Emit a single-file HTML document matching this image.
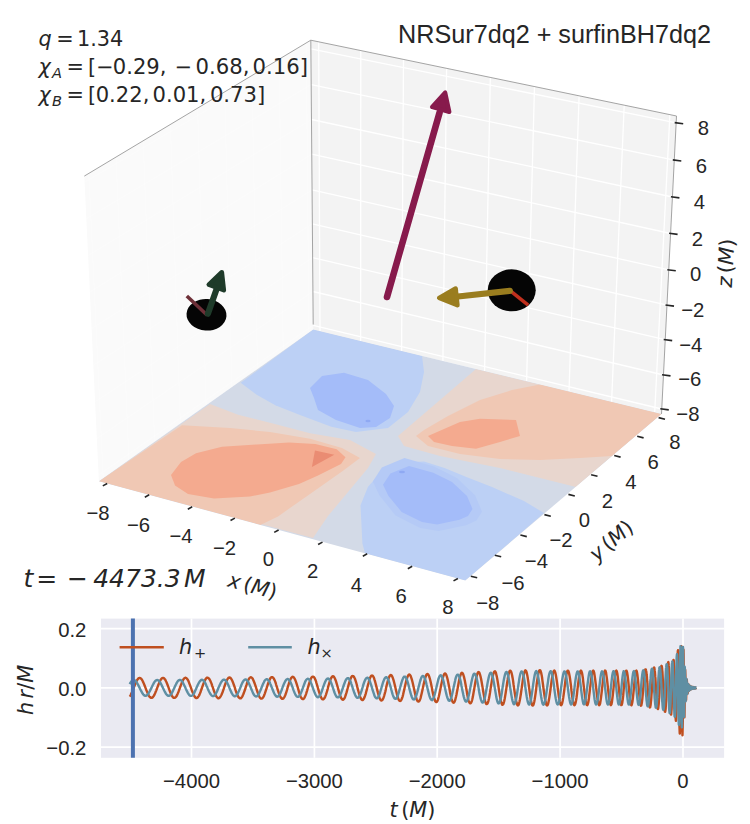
<!DOCTYPE html>
<html lang="en"><head><meta charset="utf-8"><title>NRSur7dq2 + surfinBH7dq2</title>
<style>html,body{margin:0;padding:0;background:#fff;}svg{display:block;}text{fill:#262626;}</style></head><body>
<svg width="750" height="824" viewBox="0 0 750 824">
<rect x="0" y="0" width="750" height="824" fill="#ffffff"/>
<g id="panes">
<polygon points="84.3,176.1 310.8,40.2 313.2,329.5 98.9,481.2" fill="#fafafa"/>
<polygon points="310.8,40.2 676.5,116.0 661.5,414.0 313.2,329.5" fill="#f3f3f3"/>
<g stroke="#ffffff" stroke-width="1.2" stroke-opacity="0.3" fill="none">
<line x1="84.6" y1="182.2" x2="310.9" y2="48.8"/>
<line x1="86.3" y1="218.8" x2="311.2" y2="84.6"/>
<line x1="88.1" y1="255.4" x2="311.5" y2="119.5"/>
<line x1="89.8" y1="292.0" x2="311.7" y2="154.2"/>
<line x1="91.6" y1="328.6" x2="312.0" y2="189.9"/>
<line x1="93.3" y1="365.2" x2="312.3" y2="223.8"/>
<line x1="95.1" y1="401.8" x2="312.6" y2="257.6"/>
<line x1="96.9" y1="438.4" x2="312.9" y2="291.5"/>
<line x1="98.6" y1="475.0" x2="313.2" y2="325.3"/>
<line x1="88.8" y1="173.4" x2="103.2" y2="478.2"/>
<line x1="116.0" y1="157.1" x2="128.9" y2="460.0"/>
<line x1="143.2" y1="140.8" x2="154.6" y2="441.8"/>
<line x1="170.4" y1="124.5" x2="180.3" y2="423.6"/>
<line x1="197.6" y1="108.2" x2="206.1" y2="405.4"/>
<line x1="224.7" y1="91.8" x2="231.8" y2="387.1"/>
<line x1="251.9" y1="75.5" x2="257.5" y2="368.9"/>
<line x1="279.1" y1="59.2" x2="283.2" y2="350.7"/>
<line x1="306.3" y1="42.9" x2="308.9" y2="332.5"/>
</g>
<g stroke="#ffffff" stroke-width="1.3" fill="none">
<line x1="310.9" y1="48.8" x2="676.2" y2="122.8"/>
<line x1="311.2" y1="84.6" x2="674.3" y2="160.1"/>
<line x1="311.5" y1="119.5" x2="672.4" y2="197.0"/>
<line x1="311.7" y1="154.2" x2="670.6" y2="233.5"/>
<line x1="312.0" y1="189.9" x2="668.8" y2="269.9"/>
<line x1="312.3" y1="223.8" x2="667.0" y2="305.2"/>
<line x1="312.6" y1="257.6" x2="665.2" y2="339.7"/>
<line x1="312.9" y1="291.5" x2="663.5" y2="375.0"/>
<line x1="313.2" y1="325.3" x2="661.8" y2="409.0"/>
<line x1="318.7" y1="41.8" x2="320.0" y2="331.1"/>
<line x1="360.8" y1="50.6" x2="360.6" y2="341.0"/>
<line x1="403.5" y1="59.4" x2="401.6" y2="350.9"/>
<line x1="446.6" y1="68.4" x2="442.9" y2="361.0"/>
<line x1="490.3" y1="77.4" x2="484.6" y2="371.1"/>
<line x1="534.5" y1="86.6" x2="526.6" y2="381.3"/>
<line x1="579.1" y1="95.8" x2="569.0" y2="391.5"/>
<line x1="624.2" y1="105.2" x2="611.6" y2="401.9"/>
<line x1="669.9" y1="114.6" x2="654.7" y2="412.3"/>
</g>
<g stroke="#9a9a9a" stroke-width="0.9" fill="none">
<polyline points="84.3,176.1 310.8,40.2 676.5,116.0"/>
<line x1="310.8" y1="40.2" x2="313.2" y2="324.5"/>
<line x1="676.5" y1="116.0" x2="661.5" y2="414.0"/>
</g>
</g>
<g id="floor">
<polygon points="313.2,329.5 661.5,414.0 465.3,580.6 98.9,481.2" fill="#d3dae7"/>
<clipPath id="fc"><polygon points="313.2,329.5 661.5,414.0 465.3,580.6 98.9,481.2"/></clipPath>
<g clip-path="url(#fc)">
<polygon points="313.2,329.5 240.7,382.7 256.7,394.7 275.3,405.3 299.3,414.7 331.3,426.7 356.0,432.0 388.0,428.0 408.0,412.0 420.0,392.0 424.0,372.0 422.0,356.0" fill="#bcd0f5"/>
<polygon points="310.0,388.0 322.0,376.0 344.0,372.8 368.0,380.0 386.0,394.0 394.0,406.0 390.0,418.0 376.0,427.0 360.0,428.0 336.0,420.0 318.0,410.0 314.0,398.0" fill="#a4bcf9"/>
<ellipse cx="368" cy="421" rx="2.6" ry="1.2" fill="#8fa9f3"/>
<polygon points="365.0,553.3 362.4,543.6 360.5,505.3 368.0,486.7 383.0,470.0 401.6,462.4 424.0,461.5 444.5,468.0 467.0,477.3 492.0,487.0 524.0,501.0 544.0,513.0 465.3,580.6" fill="#bcd0f5"/>
<polygon points="372.8,481.5 381.8,467.5 404.5,458.0 434.1,466.4 456.9,478.0 475.2,495.5 482.0,511.7 476.5,520.5 466.1,525.2 438.6,531.1 420.3,528.0 395.5,515.4 379.5,495.5" fill="#b5caf6"/>
<polygon points="383.0,484.8 390.4,473.6 409.0,466.0 433.3,472.7 452.0,482.0 467.0,496.0 472.5,509.0 468.0,516.0 459.5,519.8 437.0,524.5 422.0,522.0 401.6,511.9 388.5,496.0" fill="#a4bcf9"/>
<ellipse cx="402" cy="472" rx="3" ry="1.2" fill="#8fa9f3"/>
<polygon points="210.0,404.0 238.0,414.7 270.0,422.7 310.0,433.3 350.0,440.0 376.0,454.0 368.0,468.0 348.0,492.0 328.0,516.0 313.0,538.0 98.9,481.2" fill="#e8d6ce"/>
<polygon points="182.0,425.3 230.0,428.0 270.0,432.0 310.0,438.7 342.0,448.0 360.0,458.0 342.0,471.6 310.0,494.0 278.0,516.4 260.4,524.9 98.9,481.2" fill="#f0c8b4"/>
<polygon points="171.0,475.0 181.0,462.0 196.0,453.3 222.0,446.7 257.0,444.4 289.0,442.5 315.3,444.0 336.7,449.3 345.5,457.3 341.0,464.0 318.0,475.5 299.0,484.0 270.0,492.5 250.0,496.5 214.0,498.6 188.0,494.0 175.0,485.5" fill="#f4aa8f"/>
<polygon points="315.0,450.4 334.3,454.7 311.9,466.9" fill="#ea8c73"/>
<polygon points="476.0,369.0 440.0,400.0 412.0,424.0 398.0,436.0 404.0,446.0 440.0,456.0 500.0,468.0 540.0,478.0 576.0,487.0 661.5,414.0" fill="#e8d6ce"/>
<polygon points="540.0,384.5 512.0,390.0 480.0,400.0 448.0,416.0 424.0,430.0 416.0,436.0 428.0,446.0 460.0,454.0 500.0,459.0 540.0,460.0 580.0,458.0 612.0,456.0 661.5,414.0" fill="#f0c8b4"/>
<polygon points="428.0,436.0 460.0,422.0 480.0,418.8 516.0,420.0 520.0,436.0 500.0,442.0 476.0,448.8 452.0,446.0 434.0,442.0" fill="#f4aa8f"/>
</g></g>
<g id="ticks3d" stroke="#262626" stroke-width="1.6" stroke-linecap="butt">
<line x1="107.2" y1="483.5" x2="102.8" y2="485.9"/>
<line x1="149.2" y1="494.8" x2="144.8" y2="497.2"/>
<line x1="192.2" y1="506.8" x2="187.8" y2="509.2"/>
<line x1="234.9" y1="518.1" x2="230.5" y2="520.5"/>
<line x1="278.6" y1="530.0" x2="274.2" y2="532.4"/>
<line x1="322.5" y1="542.1" x2="318.1" y2="544.5"/>
<line x1="367.2" y1="553.8" x2="362.8" y2="556.2"/>
<line x1="412.2" y1="566.3" x2="407.8" y2="568.7"/>
<line x1="457.9" y1="578.5" x2="453.5" y2="580.9"/>
<line x1="470.8" y1="576.2" x2="477.2" y2="577.8"/>
<line x1="494.8" y1="555.2" x2="501.2" y2="556.8"/>
<line x1="520.4" y1="535.0" x2="526.8" y2="536.6"/>
<line x1="544.4" y1="514.6" x2="550.8" y2="516.2"/>
<line x1="568.4" y1="494.4" x2="574.8" y2="496.0"/>
<line x1="591.1" y1="474.7" x2="597.5" y2="476.3"/>
<line x1="614.2" y1="455.5" x2="620.6" y2="457.1"/>
<line x1="637.2" y1="436.3" x2="643.6" y2="437.9"/>
<line x1="658.6" y1="417.6" x2="665.0" y2="419.2"/>
<line x1="674.7" y1="122.6" x2="683.2" y2="123.7"/>
<line x1="672.8" y1="159.9" x2="681.3" y2="161.0"/>
<line x1="670.9" y1="196.8" x2="679.4" y2="197.9"/>
<line x1="669.1" y1="233.3" x2="677.6" y2="234.4"/>
<line x1="667.3" y1="269.7" x2="675.8" y2="270.8"/>
<line x1="665.5" y1="305.0" x2="674.0" y2="306.1"/>
<line x1="663.7" y1="339.5" x2="672.2" y2="340.6"/>
<line x1="662.0" y1="374.8" x2="670.5" y2="375.9"/>
<line x1="660.3" y1="408.8" x2="668.8" y2="409.9"/>
</g>
<g id="ticklabels3d" font-family='"Liberation Sans", Arial, sans-serif' font-size="20.3" text-anchor="middle">
<text x="98.0" y="520.2">−8</text>
<text x="138.5" y="531.9">−6</text>
<text x="181.0" y="543.2">−4</text>
<text x="224.5" y="555.2">−2</text>
<text x="268.5" y="566.2">0</text>
<text x="312.6" y="578.2">2</text>
<text x="356.5" y="591.7">4</text>
<text x="401.2" y="603.4">6</text>
<text x="447.8" y="613.9">8</text>
<text x="487.8" y="609.8">−8</text>
<text x="513.0" y="589.6">−6</text>
<text x="536.4" y="567.9">−4</text>
<text x="561.0" y="547.4">−2</text>
<text x="584.4" y="527.2">0</text>
<text x="607.4" y="508.0">2</text>
<text x="630.8" y="488.8">4</text>
<text x="653.2" y="468.6">6</text>
<text x="675.0" y="449.4">8</text>
<text x="703.3" y="134.7">8</text>
<text x="701.4" y="172.7">6</text>
<text x="699.4" y="209.3">4</text>
<text x="697.5" y="246.0">2</text>
<text x="695.6" y="280.8">0</text>
<text x="692.7" y="316.9">−2</text>
<text x="690.8" y="351.9">−4</text>
<text x="689.8" y="385.9">−6</text>
<text x="687.9" y="420.8">−8</text>
</g>
<text transform="translate(250.8,592.8) rotate(15.2)" font-family='"DejaVu Sans", "Liberation Sans", sans-serif' font-size="20.8" text-anchor="middle"><tspan font-style="italic">x</tspan><tspan dx="3.5">(</tspan><tspan font-style="italic">M</tspan><tspan>)</tspan></text>
<text transform="translate(615.9,546.0) rotate(-40.3)" font-family='"DejaVu Sans", "Liberation Sans", sans-serif' font-size="20.8" text-anchor="middle"><tspan font-style="italic">y</tspan><tspan dx="3.5">(</tspan><tspan font-style="italic">M</tspan><tspan>)</tspan></text>
<text transform="translate(733.1,263.5) rotate(-87.1)" font-family='"DejaVu Sans", "Liberation Sans", sans-serif' font-size="20.8" text-anchor="middle"><tspan font-style="italic">z</tspan><tspan dx="3.5">(</tspan><tspan font-style="italic">M</tspan><tspan>)</tspan></text>
<g id="objects">
<line x1="387" y1="297" x2="439.6" y2="112.5" stroke="#871a4c" stroke-width="6.6" stroke-linecap="round"/>
<polygon points="445.1,92.6 432.2,107.0 449.2,111.8" fill="#871a4c" stroke="#871a4c" stroke-width="4.4" stroke-linejoin="round"/>
<ellipse cx="206.5" cy="314.8" rx="20" ry="15.8" fill="#050505" transform="rotate(4 206.5 314.8)"/>
<line x1="186.8" y1="296" x2="207.3" y2="315.3" stroke="#6e3038" stroke-width="3.6" stroke-linecap="butt"/>
<line x1="207.9" y1="313.7" x2="216.8" y2="288.5" stroke="#1f3b2a" stroke-width="6.2" stroke-linecap="round"/>
<polygon points="221.8,272.2 208.8,284.6 223.8,290.2" fill="#1f3b2a" stroke="#1f3b2a" stroke-width="4.6" stroke-linejoin="round"/>
<ellipse cx="511.7" cy="290.3" rx="24" ry="21" fill="#050505"/>
<line x1="509.8" y1="290.3" x2="528.2" y2="305.2" stroke="#c0301e" stroke-width="3.6" stroke-linecap="butt"/>
<line x1="509.8" y1="290.8" x2="458" y2="296.5" stroke="#9a7d1f" stroke-width="6.2" stroke-linecap="round"/>
<polygon points="439.2,297.9 455.6,288.6 457.4,305.2" fill="#9a7d1f" stroke="#9a7d1f" stroke-width="4.6" stroke-linejoin="round"/>
</g>
<text x="711.0" y="42.6" font-family='"Liberation Sans", Arial, sans-serif' font-size="25.2" text-anchor="end">NRSur7dq2 + surfinBH7dq2</text>
<g id="params" font-family='"DejaVu Sans", "Liberation Sans", sans-serif' font-size="20.8">
<text y="46"><tspan x="38.6" font-style="italic">q</tspan><tspan x="56.3">=</tspan><tspan x="77">1.34</tspan></text>
<text y="73.6"><tspan x="38.6" font-style="italic">χ</tspan><tspan x="52.0" dy="3.9" font-size="14.6" font-style="italic">A</tspan><tspan x="66.5" dy="-3.9">=</tspan><tspan x="88.1">[</tspan><tspan x="96.2">−</tspan><tspan x="112.8" font-size="21.1">0.29,</tspan><tspan x="174.8">−</tspan><tspan x="195.5" font-size="21.2">0.68,</tspan><tspan x="252.5" font-size="21.2">0.16]</tspan></text>
<text y="101.6"><tspan x="38.6" font-style="italic">χ</tspan><tspan x="52.0" dy="3.9" font-size="14.6" font-style="italic">B</tspan><tspan x="66.5" dy="-3.9">=</tspan><tspan x="88.1">[</tspan><tspan x="95.7" font-size="21.1">0.22,</tspan><tspan x="152.5" font-size="21.1">0.01,</tspan><tspan x="209.9" font-size="21.2">0.73]</tspan></text>
</g>
<text y="586.6" font-family='"DejaVu Sans", "Liberation Sans", sans-serif' font-size="25" font-style="italic"><tspan x="23.6">t</tspan><tspan x="36.2">=</tspan><tspan x="67">−</tspan><tspan x="93.2">4473.3</tspan><tspan x="184">M</tspan></text>
<g id="wave">
<rect x="101.0" y="618.6" width="623.1" height="139.2" fill="#eaeaf2"/>
<g stroke="#ffffff" stroke-width="1.7">
<line x1="191.5" y1="618.6" x2="191.5" y2="757.8"/>
<line x1="314.4" y1="618.6" x2="314.4" y2="757.8"/>
<line x1="437.2" y1="618.6" x2="437.2" y2="757.8"/>
<line x1="560.1" y1="618.6" x2="560.1" y2="757.8"/>
<line x1="683.0" y1="618.6" x2="683.0" y2="757.8"/>
<line x1="101.0" y1="628.6" x2="724.1" y2="628.6"/>
<line x1="101.0" y1="687.9" x2="724.1" y2="687.9"/>
<line x1="101.0" y1="747.1" x2="724.1" y2="747.1"/>
</g>
<polyline points="129.7,696.6 130.2,695.9 130.7,695.0 131.1,694.1 131.6,693.0 132.1,691.9 132.6,690.7 133.1,689.4 133.6,688.1 134.1,686.8 134.6,685.6 135.1,684.3 135.6,683.2 136.1,682.1 136.6,681.1 137.0,680.2 137.5,679.5 138.0,678.9 138.5,678.4 139.0,678.1 139.5,678.0 140.0,678.0 140.5,678.2 141.0,678.6 141.5,679.1 142.0,679.8 142.5,680.6 142.9,681.6 143.4,682.6 143.9,683.8 144.4,685.0 144.9,686.3 145.4,687.6 145.9,688.9 146.4,690.2 146.9,691.4 147.4,692.6 147.9,693.7 148.3,694.7 148.8,695.6 149.3,696.4 149.8,697.0 150.3,697.4 150.8,697.7 151.3,697.8 151.8,697.8 152.3,697.6 152.8,697.2 153.3,696.6 153.8,695.9 154.2,695.1 154.7,694.1 155.2,693.0 155.7,691.8 156.2,690.6 156.7,689.3 157.2,687.9 157.7,686.6 158.2,685.3 158.7,684.0 159.2,682.9 159.7,681.8 160.1,680.8 160.6,679.9 161.1,679.2 161.6,678.6 162.1,678.2 162.6,678.0 163.1,677.9 163.6,678.1 164.1,678.4 164.6,678.9 165.1,679.5 165.6,680.3 166.0,681.3 166.5,682.3 167.0,683.5 167.5,684.8 168.0,686.1 168.5,687.4 169.0,688.8 169.5,690.2 170.0,691.5 170.5,692.7 171.0,693.9 171.5,694.9 171.9,695.8 172.4,696.6 172.9,697.2 173.4,697.6 173.9,697.9 174.4,697.9 174.9,697.8 175.4,697.5 175.9,697.0 176.4,696.3 176.9,695.5 177.3,694.5 177.8,693.4 178.3,692.2 178.8,690.9 179.3,689.5 179.8,688.1 180.3,686.8 180.8,685.4 181.3,684.1 181.8,682.8 182.3,681.7 182.8,680.6 183.2,679.7 183.7,679.0 184.2,678.4 184.7,678.0 185.2,677.8 185.7,677.8 186.2,678.0 186.7,678.4 187.2,679.0 187.7,679.7 188.2,680.6 188.7,681.7 189.1,682.8 189.6,684.1 190.1,685.4 190.6,686.8 191.1,688.2 191.6,689.7 192.1,691.0 192.6,692.4 193.1,693.6 193.6,694.7 194.1,695.7 194.6,696.5 195.0,697.2 195.5,697.7 196.0,698.0 196.5,698.1 197.0,697.9 197.5,697.6 198.0,697.1 198.5,696.4 199.0,695.6 199.5,694.6 200.0,693.4 200.5,692.2 200.9,690.9 201.4,689.5 201.9,688.0 202.4,686.6 202.9,685.2 203.4,683.8 203.9,682.6 204.4,681.4 204.9,680.3 205.4,679.5 205.9,678.7 206.3,678.2 206.8,677.8 207.3,677.7 207.8,677.7 208.3,678.0 208.8,678.4 209.3,679.0 209.8,679.8 210.3,680.8 210.8,681.9 211.3,683.1 211.8,684.4 212.2,685.8 212.7,687.2 213.2,688.7 213.7,690.1 214.2,691.5 214.7,692.8 215.2,694.0 215.7,695.1 216.2,696.1 216.7,696.9 217.2,697.5 217.7,697.9 218.1,698.2 218.6,698.2 219.1,698.1 219.6,697.7 220.1,697.2 220.6,696.4 221.1,695.5 221.6,694.5 222.1,693.3 222.6,692.0 223.1,690.6 223.6,689.2 224.0,687.8 224.5,686.3 225.0,684.9 225.5,683.5 226.0,682.2 226.5,681.1 227.0,680.0 227.5,679.1 228.0,678.4 228.5,677.9 229.0,677.6 229.4,677.5 229.9,677.6 230.4,677.9 230.9,678.4 231.4,679.1 231.9,680.0 232.4,681.1 232.9,682.3 233.4,683.6 233.9,685.0 234.4,686.4 234.9,687.9 235.3,689.4 235.8,690.9 236.3,692.3 236.8,693.6 237.3,694.8 237.8,695.9 238.3,696.8 238.8,697.5 239.3,698.0 239.8,698.3 240.3,698.4 240.8,698.3 241.2,697.9 241.7,697.4 242.2,696.6 242.7,695.6 243.2,694.5 243.7,693.3 244.2,691.9 244.7,690.5 245.2,689.0 245.7,687.4 246.2,685.9 246.7,684.4 247.1,683.0 247.6,681.7 248.1,680.5 248.6,679.5 249.1,678.6 249.6,678.0 250.1,677.5 250.6,677.3 251.1,677.3 251.6,677.5 252.1,678.0 252.6,678.6 253.0,679.4 253.5,680.5 254.0,681.7 254.5,683.0 255.0,684.4 255.5,685.9 256.0,687.4 256.5,689.0 257.0,690.5 257.5,692.0 258.0,693.4 258.4,694.7 258.9,695.8 259.4,696.8 259.9,697.6 260.4,698.1 260.9,698.5 261.4,698.6 261.9,698.5 262.4,698.2 262.9,697.7 263.4,696.9 263.9,696.0 264.3,694.9 264.8,693.6 265.3,692.2 265.8,690.7 266.3,689.2 266.8,687.6 267.3,686.0 267.8,684.5 268.3,683.0 268.8,681.7 269.3,680.4 269.8,679.4 270.2,678.5 270.7,677.8 271.2,677.3 271.7,677.1 272.2,677.1 272.7,677.3 273.2,677.8 273.7,678.4 274.2,679.3 274.7,680.4 275.2,681.6 275.7,683.0 276.1,684.5 276.6,686.1 277.1,687.7 277.6,689.3 278.1,690.9 278.6,692.4 279.1,693.8 279.6,695.1 280.1,696.2 280.6,697.2 281.1,698.0 281.6,698.5 282.0,698.8 282.5,698.9 283.0,698.7 283.5,698.3 284.0,697.6 284.5,696.8 285.0,695.7 285.5,694.5 286.0,693.1 286.5,691.6 287.0,690.0 287.4,688.4 287.9,686.7 288.4,685.1 288.9,683.5 289.4,682.1 289.9,680.7 290.4,679.5 290.9,678.5 291.4,677.8 291.9,677.2 292.4,676.9 292.9,676.8 293.3,677.0 293.8,677.4 294.3,678.1 294.8,679.0 295.3,680.1 295.8,681.4 296.3,682.8 296.8,684.4 297.3,686.0 297.8,687.7 298.3,689.4 298.8,691.1 299.2,692.7 299.7,694.2 300.2,695.5 300.7,696.7 301.2,697.7 301.7,698.4 302.2,698.9 302.7,699.1 303.2,699.1 303.7,698.8 304.2,698.2 304.7,697.4 305.1,696.4 305.6,695.2 306.1,693.8 306.6,692.2 307.1,690.6 307.6,688.8 308.1,687.1 308.6,685.4 309.1,683.7 309.6,682.2 310.1,680.7 310.6,679.5 311.0,678.4 311.5,677.6 312.0,677.0 312.5,676.6 313.0,676.6 313.5,676.8 314.0,677.2 314.5,677.9 315.0,678.9 315.5,680.0 316.0,681.4 316.4,682.9 316.9,684.5 317.4,686.2 317.9,688.0 318.4,689.7 318.9,691.4 319.4,693.0 319.9,694.6 320.4,695.9 320.9,697.1 321.4,698.0 321.9,698.7 322.3,699.2 322.8,699.4 323.3,699.3 323.8,698.9 324.3,698.3 324.8,697.5 325.3,696.4 325.8,695.1 326.3,693.6 326.8,692.0 327.3,690.3 327.8,688.5 328.2,686.7 328.7,685.0 329.2,683.3 329.7,681.7 330.2,680.3 330.7,679.0 331.2,678.0 331.7,677.2 332.2,676.6 332.7,676.3 333.2,676.3 333.7,676.6 334.1,677.1 334.6,677.9 335.1,679.0 335.6,680.2 336.1,681.7 336.6,683.3 337.1,685.0 337.6,686.8 338.1,688.6 338.6,690.4 339.1,692.1 339.6,693.8 340.0,695.3 340.5,696.6 341.0,697.7 341.5,698.6 342.0,699.2 342.5,699.6 343.0,699.7 343.5,699.4 344.0,698.9 344.5,698.2 345.0,697.2 345.4,695.9 345.9,694.5 346.4,692.9 346.9,691.1 347.4,689.3 347.9,687.5 348.4,685.6 348.9,683.8 349.4,682.1 349.9,680.6 350.4,679.2 350.9,678.0 351.3,677.1 351.8,676.4 352.3,676.1 352.8,676.0 353.3,676.2 353.8,676.7 354.3,677.5 354.8,678.5 355.3,679.8 355.8,681.3 356.3,683.0 356.8,684.8 357.2,686.6 357.7,688.6 358.2,690.5 358.7,692.3 359.2,694.0 359.7,695.6 360.2,697.0 360.7,698.2 361.2,699.1 361.7,699.7 362.2,700.0 362.7,700.0 363.1,699.7 363.6,699.1 364.1,698.2 364.6,697.1 365.1,695.7 365.6,694.1 366.1,692.3 366.6,690.4 367.1,688.5 367.6,686.5 368.1,684.5 368.6,682.7 369.0,681.0 369.5,679.4 370.0,678.1 370.5,677.0 371.0,676.2 371.5,675.7 372.0,675.5 372.5,675.7 373.0,676.2 373.5,676.9 374.0,678.0 374.4,679.4 374.9,680.9 375.4,682.7 375.9,684.6 376.4,686.6 376.9,688.6 377.4,690.6 377.9,692.6 378.4,694.4 378.9,696.1 379.4,697.5 379.9,698.7 380.3,699.6 380.8,700.2 381.3,700.5 381.8,700.4 382.3,700.0 382.8,699.3 383.3,698.2 383.8,696.9 384.3,695.3 384.8,693.5 385.3,691.6 385.8,689.5 386.2,687.4 386.7,685.3 387.2,683.3 387.7,681.4 388.2,679.7 388.7,678.1 389.2,676.9 389.7,675.9 390.2,675.3 390.7,675.0 391.2,675.1 391.7,675.6 392.1,676.3 392.6,677.4 393.1,678.8 393.6,680.4 394.1,682.3 394.6,684.3 395.1,686.4 395.6,688.6 396.1,690.7 396.6,692.8 397.1,694.8 397.5,696.5 398.0,698.0 398.5,699.3 399.0,700.2 399.5,700.8 400.0,701.0 400.5,700.9 401.0,700.4 401.5,699.5 402.0,698.3 402.5,696.8 403.0,695.1 403.4,693.2 403.9,691.0 404.4,688.9 404.9,686.6 405.4,684.4 405.9,682.3 406.4,680.4 406.9,678.6 407.4,677.1 407.9,676.0 408.4,675.1 408.9,674.6 409.3,674.5 409.8,674.8 410.3,675.4 410.8,676.4 411.3,677.8 411.8,679.4 412.3,681.2 412.8,683.3 413.3,685.5 413.8,687.8 414.3,690.0 414.8,692.2 415.2,694.3 415.7,696.3 416.2,698.0 416.7,699.4 417.2,700.5 417.7,701.2 418.2,701.5 418.7,701.5 419.2,701.1 419.7,700.3 420.2,699.1 420.7,697.6 421.1,695.8 421.6,693.8 422.1,691.6 422.6,689.3 423.1,687.0 423.6,684.6 424.1,682.4 424.6,680.3 425.1,678.4 425.6,676.8 426.1,675.5 426.5,674.6 427.0,674.1 427.5,674.0 428.0,674.3 428.5,675.0 429.0,676.1 429.5,677.5 430.0,679.3 430.5,681.3 431.0,683.6 431.5,685.9 432.0,688.4 432.4,690.8 432.9,693.2 433.4,695.4 433.9,697.3 434.4,699.0 434.9,700.4 435.4,701.4 435.9,701.9 436.4,702.1 436.9,701.8 437.4,701.1 437.9,699.9 438.3,698.4 438.8,696.5 439.3,694.4 439.8,692.1 440.3,689.6 440.8,687.1 441.3,684.6 441.8,682.2 442.3,679.9 442.8,677.9 443.3,676.2 443.8,674.9 444.2,674.0 444.7,673.5 445.2,673.5 445.7,673.9 446.2,674.8 446.7,676.1 447.2,677.8 447.7,679.9 448.2,682.2 448.7,684.7 449.2,687.3 449.7,689.9 450.1,692.5 450.6,695.0 451.1,697.2 451.6,699.1 452.1,700.7 452.6,701.8 453.1,702.5 453.6,702.7 454.1,702.4 454.6,701.6 455.1,700.4 455.5,698.7 456.0,696.7 456.5,694.4 457.0,691.8 457.5,689.2 458.0,686.4 458.5,683.7 459.0,681.1 459.5,678.8 460.0,676.7 460.5,675.1 461.0,673.8 461.4,673.0 461.9,672.7 462.4,673.0 462.9,673.7 463.4,675.0 463.9,676.6 464.4,678.7 464.9,681.1 465.4,683.7 465.9,686.5 466.4,689.3 466.9,692.1 467.3,694.8 467.8,697.2 468.3,699.3 468.8,701.1 469.3,702.4 469.8,703.2 470.3,703.4 470.8,703.2 471.3,702.4 471.8,701.1 472.3,699.3 472.8,697.1 473.2,694.7 473.7,691.9 474.2,689.0 474.7,686.1 475.2,683.2 475.7,680.5 476.2,678.0 476.7,675.9 477.2,674.1 477.7,672.9 478.2,672.2 478.7,672.0 479.1,672.4 479.6,673.4 480.1,674.8 480.6,676.8 481.1,679.1 481.6,681.7 482.1,684.6 482.6,687.6 483.1,690.7 483.6,693.6 484.1,696.3 484.5,698.8 485.0,700.9 485.5,702.5 486.0,703.6 486.5,704.1 487.0,704.1 487.5,703.5 488.0,702.3 488.5,700.6 489.0,698.4 489.5,695.8 490.0,692.9 490.4,689.9 490.9,686.7 491.4,683.6 491.9,680.6 492.4,677.9 492.9,675.5 493.4,673.6 493.9,672.3 494.4,671.5 494.9,671.3 495.4,671.7 495.9,672.8 496.3,674.5 496.8,676.6 497.3,679.3 497.8,682.2 498.3,685.4 498.8,688.8 499.3,692.1 499.8,695.2 500.3,698.1 500.8,700.5 501.3,702.5 501.8,703.9 502.2,704.7 502.7,704.8 503.2,704.2 503.7,703.0 504.2,701.2 504.7,698.8 505.2,695.9 505.7,692.8 506.2,689.4 506.7,686.0 507.2,682.6 507.7,679.5 508.1,676.6 508.6,674.3 509.1,672.4 509.6,671.2 510.1,670.7 510.6,670.9 511.1,671.7 511.6,673.2 512.1,675.3 512.6,677.9 513.1,680.9 513.5,684.2 514.0,687.6 514.5,691.1 515.0,694.4 515.5,697.5 516.0,700.2 516.5,702.4 517.0,704.1 517.5,705.1 518.0,705.4 518.5,704.9 519.0,703.8 519.4,702.1 519.9,699.7 520.4,696.9 520.9,693.7 521.4,690.2 521.9,686.6 522.4,683.1 522.9,679.7 523.4,676.7 523.9,674.2 524.4,672.2 524.9,670.9 525.3,670.3 525.8,670.5 526.3,671.4 526.8,673.1 527.3,675.4 527.8,678.3 528.3,681.7 528.8,685.3 529.3,689.1 529.8,692.8 530.3,696.3 530.8,699.5 531.2,702.1 531.7,704.0 532.2,705.2 532.7,705.6 533.2,705.2 533.7,704.0 534.2,702.0 534.7,699.3 535.2,696.1 535.7,692.6 536.2,688.8 536.6,684.9 537.1,681.2 537.6,677.9 538.1,674.9 538.6,672.6 539.1,671.0 539.6,670.2 540.1,670.2 540.6,671.0 541.1,672.6 541.6,674.9 542.1,677.8 542.5,681.1 543.0,684.7 543.5,688.5 544.0,692.2 544.5,695.7 545.0,698.9 545.5,701.6 546.0,703.6 546.5,705.0 547.0,705.5 547.5,705.3 548.0,704.3 548.4,702.5 548.9,700.1 549.4,697.1 549.9,693.6 550.4,690.0 550.9,686.2 551.4,682.5 551.9,679.0 552.4,676.0 552.9,673.5 553.4,671.7 553.9,670.7 554.3,670.5 554.8,671.2 555.3,672.6 555.8,674.8 556.3,677.7 556.8,681.0 557.3,684.7 557.8,688.6 558.3,692.4 558.8,696.0 559.3,699.2 559.8,701.9 560.2,703.8 560.7,704.9 561.2,705.2 561.7,704.6 562.2,703.1 562.7,700.8 563.2,697.9 563.7,694.4 564.2,690.6 564.7,686.7 565.2,682.7 565.6,679.1 566.1,675.9 566.6,673.4 567.1,671.6 567.6,670.7 568.1,670.7 568.6,671.6 569.1,673.4 569.6,676.0 570.1,679.2 570.6,682.9 571.1,686.9 571.5,690.9 572.0,694.8 572.5,698.3 573.0,701.3 573.5,703.5 574.0,704.8 574.5,705.2 575.0,704.7 575.5,703.2 576.0,700.8 576.5,697.7 577.0,694.0 577.4,690.0 577.9,685.9 578.4,681.8 578.9,678.1 579.4,675.0 579.9,672.6 580.4,671.1 580.9,670.6 581.4,671.1 581.9,672.6 582.4,675.1 582.9,678.3 583.3,682.1 583.8,686.3 584.3,690.6 584.8,694.7 585.3,698.5 585.8,701.6 586.3,703.8 586.8,705.0 587.3,705.2 587.8,704.2 588.3,702.2 588.8,699.3 589.2,695.7 589.7,691.6 590.2,687.2 590.7,682.8 591.2,678.8 591.7,675.4 592.2,672.8 592.7,671.1 593.2,670.6 593.7,671.1 594.2,672.8 594.6,675.4 595.1,678.8 595.6,682.9 596.1,687.2 596.6,691.6 597.1,695.8 597.6,699.5 598.1,702.4 598.6,704.3 599.1,705.2 599.6,704.9 600.1,703.5 600.5,701.1 601.0,697.7 601.5,693.7 602.0,689.3 602.5,684.8 603.0,680.5 603.5,676.6 604.0,673.6 604.5,671.5 605.0,670.6 605.5,670.9 606.0,672.4 606.4,675.1 606.9,678.6 607.4,682.8 607.9,687.4 608.4,692.1 608.9,696.4 609.4,700.2 609.9,703.0 610.4,704.7 610.9,705.2 611.4,704.4 611.9,702.3 612.3,699.1 612.8,695.0 613.3,690.4 613.8,685.5 614.3,680.8 614.8,676.7 615.3,673.4 615.8,671.3 616.3,670.6 616.8,671.3 617.3,673.5 617.8,676.9 618.2,681.4 618.7,686.4 619.2,691.7 619.7,696.6 620.2,700.7 620.7,703.6 621.2,705.1 621.7,704.9 622.2,703.1 622.7,699.9 623.2,695.4 623.6,690.3 624.1,684.9 624.6,679.8 625.1,675.5 625.6,672.4 626.1,670.8 626.6,670.8 627.1,672.4 627.6,675.4 628.1,679.7 628.6,684.6 629.1,689.9 629.5,695.0 630.0,699.5 630.5,702.8 631.0,704.8 631.5,705.2 632.0,703.9 632.5,701.2 633.0,697.1 633.5,692.2 634.0,686.8 634.5,681.5 635.0,676.8 635.4,673.2 635.9,671.0 636.4,670.5 636.9,671.9 637.4,674.8 637.9,679.2 638.4,684.6 638.9,690.3 639.4,695.9 639.9,700.6 640.4,704.0 640.9,705.7 641.3,705.4 641.8,703.1 642.3,699.1 642.8,693.7 643.3,687.6 643.8,681.5 644.3,676.0 644.8,671.8 645.3,669.5 645.8,669.4 646.1,670.8 646.3,671.6 646.4,672.4 646.5,673.4 646.6,674.5 646.8,675.8 646.9,677.1 647.0,678.5 647.1,680.0 647.2,681.5 647.4,683.1 647.5,684.8 647.6,686.4 647.7,688.1 647.9,689.8 648.0,691.5 648.1,693.2 648.2,694.8 648.3,696.4 648.5,697.9 648.6,699.4 648.7,700.7 648.8,702.0 649.0,703.2 649.1,704.2 649.2,705.1 649.3,705.9 649.5,706.5 649.6,707.0 649.7,707.3 649.8,707.5 649.9,707.5 650.1,707.3 650.2,707.0 650.3,706.6 650.4,705.9 650.6,705.1 650.7,704.2 650.8,703.1 650.9,701.9 651.1,700.6 651.2,699.1 651.3,697.6 651.4,696.0 651.5,694.2 651.7,692.5 651.8,690.6 651.9,688.8 652.0,686.9 652.2,685.0 652.3,683.2 652.4,681.4 652.5,679.6 652.6,677.9 652.8,676.3 652.9,674.7 653.0,673.3 653.1,672.0 653.3,670.9 653.4,669.9 653.5,669.0 653.6,668.4 653.8,667.9 653.9,667.6 654.0,667.5 654.1,667.5 654.2,667.8 654.4,668.3 654.5,668.9 654.6,669.7 654.7,670.7 654.9,671.9 655.0,673.3 655.1,674.7 655.2,676.4 655.4,678.1 655.5,680.0 655.6,681.9 655.7,683.9 655.8,686.0 656.0,688.0 656.1,690.1 656.2,692.2 656.3,694.2 656.5,696.2 656.6,698.1 656.7,699.9 656.8,701.6 656.9,703.2 657.1,704.6 657.2,705.8 657.3,706.9 657.4,707.7 657.6,708.4 657.7,708.8 657.8,709.1 657.9,709.1 658.1,708.8 658.2,708.4 658.3,707.7 658.4,706.8 658.5,705.7 658.7,704.4 658.8,702.9 658.9,701.2 659.0,699.4 659.2,697.4 659.3,695.4 659.4,693.2 659.5,691.0 659.7,688.7 659.8,686.4 659.9,684.1 660.0,681.9 660.1,679.7 660.3,677.6 660.4,675.6 660.5,673.7 660.6,672.0 660.8,670.4 660.9,669.1 661.0,667.9 661.1,667.0 661.3,666.4 661.4,665.9 661.5,665.8 661.6,665.9 661.7,666.2 661.9,666.8 662.0,667.7 662.1,668.7 662.2,670.1 662.4,671.6 662.5,673.3 662.6,675.2 662.7,677.3 662.8,679.5 663.0,681.8 663.1,684.2 663.2,686.6 663.3,689.1 663.5,691.6 663.6,694.1 663.7,696.5 663.8,698.8 664.0,701.0 664.1,703.1 664.2,705.0 664.3,706.7 664.4,708.2 664.6,709.5 664.7,710.5 664.8,711.2 664.9,711.7 665.1,711.8 665.2,711.7 665.3,711.2 665.4,710.5 665.6,709.4 665.7,708.0 665.8,706.4 665.9,704.5 666.0,702.3 666.2,699.9 666.3,697.4 666.4,694.7 666.5,691.8 666.7,688.9 666.8,685.9 666.9,682.9 667.0,680.0 667.1,677.1 667.3,674.4 667.4,671.8 667.5,669.5 667.6,667.4 667.8,665.6 667.9,664.2 668.0,663.1 668.1,662.4 668.3,662.1 668.4,662.3 668.5,662.9 668.6,663.9 668.7,665.4 668.9,667.3 669.0,669.6 669.1,672.2 669.2,675.1 669.4,678.4 669.5,681.8 669.6,685.4 669.7,689.0 669.9,692.7 670.0,696.3 670.1,699.8 670.2,703.0 670.3,706.0 670.5,708.6 670.6,710.9 670.7,712.6 670.8,713.8 671.0,714.5 671.1,714.6 671.2,714.2 671.3,713.1 671.4,711.5 671.6,709.3 671.7,706.6 671.8,703.5 671.9,699.9 672.1,696.1 672.2,692.1 672.3,687.9 672.4,683.7 672.6,679.5 672.7,675.6 672.8,671.9 672.9,668.5 673.0,665.6 673.2,663.2 673.3,661.5 673.4,660.3 673.5,659.9 673.7,660.2 673.8,661.1 673.9,662.7 674.0,665.0 674.2,667.9 674.3,671.4 674.4,675.3 674.5,679.7 674.6,684.4 674.8,689.2 674.9,694.2 675.0,699.0 675.1,703.7 675.3,708.1 675.4,712.1 675.5,715.4 675.6,718.0 675.8,719.9 675.9,720.8 676.0,720.7 676.1,719.7 676.2,717.6 676.4,714.5 676.5,710.5 676.6,705.6 676.7,700.0 676.9,693.8 677.0,687.3 677.1,680.6 677.2,674.0 677.3,667.8 677.5,662.1 677.6,657.3 677.7,653.6 677.8,651.2 678.0,650.2 678.1,650.8 678.2,653.0 678.3,656.7 678.5,661.8 678.6,668.2 678.7,675.7 678.8,684.0 678.9,692.8 679.1,701.7 679.2,710.2 679.3,718.0 679.4,724.6 679.6,729.6 679.7,732.7 679.8,733.6 679.9,732.1 680.1,728.2 680.2,721.9 680.3,713.6 680.4,703.7 680.5,692.7 680.7,681.3 680.8,670.3 680.9,660.6 681.0,652.8 681.2,647.8 681.3,646.1 681.4,648.0 681.5,653.6 681.6,662.9 681.8,675.1 681.9,689.2 682.0,703.8 682.1,717.2 682.3,727.9 682.4,734.3 682.5,735.3 682.6,730.6 682.8,720.5 682.9,706.3 683.0,689.7 683.1,673.2 683.2,659.7 683.4,651.4 683.5,649.7 683.6,654.4 683.7,664.7 683.9,678.4 684.0,692.9 684.1,705.6 684.2,714.2 684.4,717.4 684.5,714.6 684.6,706.9 684.7,696.2 684.8,685.2 685.0,676.1 685.1,670.8 685.2,669.9 685.3,672.9 685.5,678.9 685.6,686.2 685.7,693.0 685.8,698.1 685.9,700.4 686.1,699.8 686.2,696.8 686.3,692.1 686.4,687.0 686.6,682.8 686.7,680.2 686.8,679.7 686.9,681.0 687.1,683.8 687.2,687.2 687.3,690.3 687.4,692.6 687.5,693.5 687.7,693.2 687.8,691.7 687.9,689.6 688.0,687.4 688.2,685.6 688.3,684.4 688.4,684.2 688.5,684.8 688.7,686.0 688.8,687.5 688.9,689.0 689.0,690.1 689.1,690.7 689.3,690.5 689.4,689.8 689.5,688.8 689.6,687.6 689.8,686.6 689.9,686.0 690.0,685.9 690.1,686.2 690.2,686.9 690.4,687.7 690.5,688.5 690.6,689.1 690.7,689.4 690.9,689.3 691.0,689.0 691.1,688.4 691.2,687.7 691.4,687.2 691.5,686.8 691.6,686.7 691.7,686.9 691.8,687.3 692.0,687.8 692.1,688.3 692.2,688.7 692.3,688.9 692.5,688.9 692.6,688.6 692.7,688.2 692.8,687.8 693.0,687.4 693.1,687.1 693.2,687.0 693.3,687.2 693.4,687.4 693.6,687.8 693.7,688.2 693.8,688.5 693.9,688.6 694.1,688.6 694.2,688.4 694.3,688.1 694.4,687.8 694.6,687.5 694.7,687.3 694.8,687.3 694.9,687.3 695.0,687.5 695.2,687.8 695.3,688.1 695.4,688.3 695.5,688.4 695.7,688.4 695.8,688.3 695.9,688.1 696.0,687.8 696.1,687.6" fill="none" stroke="#bf4f20" stroke-width="2.4" stroke-linejoin="round" stroke-linecap="butt"/>
<polyline points="129.7,684.1 130.2,683.2 130.7,682.4 131.1,681.8 131.6,681.2 132.1,680.7 132.6,680.4 133.1,680.1 133.6,680.1 134.1,680.1 134.6,680.3 135.1,680.6 135.6,681.0 136.1,681.5 136.6,682.2 137.0,682.9 137.5,683.8 138.0,684.7 138.5,685.6 139.0,686.6 139.5,687.6 140.0,688.7 140.5,689.7 141.0,690.7 141.5,691.6 142.0,692.5 142.5,693.3 142.9,694.0 143.4,694.6 143.9,695.1 144.4,695.4 144.9,695.7 145.4,695.8 145.9,695.7 146.4,695.6 146.9,695.3 147.4,694.8 147.9,694.3 148.3,693.6 148.8,692.9 149.3,692.0 149.8,691.1 150.3,690.1 150.8,689.1 151.3,688.1 151.8,687.1 152.3,686.0 152.8,685.0 153.3,684.1 153.8,683.2 154.2,682.4 154.7,681.7 155.2,681.1 155.7,680.6 156.2,680.3 156.7,680.1 157.2,680.0 157.7,680.1 158.2,680.3 158.7,680.6 159.2,681.1 159.7,681.7 160.1,682.4 160.6,683.2 161.1,684.1 161.6,685.0 162.1,686.1 162.6,687.1 163.1,688.2 163.6,689.2 164.1,690.3 164.6,691.3 165.1,692.2 165.6,693.1 166.0,693.8 166.5,694.5 167.0,695.0 167.5,695.4 168.0,695.7 168.5,695.8 169.0,695.8 169.5,695.6 170.0,695.3 170.5,694.9 171.0,694.3 171.5,693.6 171.9,692.8 172.4,691.9 172.9,690.9 173.4,689.8 173.9,688.8 174.4,687.7 174.9,686.6 175.4,685.5 175.9,684.5 176.4,683.5 176.9,682.7 177.3,681.9 177.8,681.2 178.3,680.7 178.8,680.3 179.3,680.0 179.8,679.9 180.3,680.0 180.8,680.2 181.3,680.5 181.8,681.0 182.3,681.6 182.8,682.4 183.2,683.2 183.7,684.2 184.2,685.2 184.7,686.2 185.2,687.3 185.7,688.5 186.2,689.6 186.7,690.6 187.2,691.6 187.7,692.6 188.2,693.5 188.7,694.2 189.1,694.8 189.6,695.3 190.1,695.7 190.6,695.9 191.1,695.9 191.6,695.8 192.1,695.5 192.6,695.1 193.1,694.6 193.6,693.9 194.1,693.1 194.6,692.1 195.0,691.1 195.5,690.1 196.0,689.0 196.5,687.8 197.0,686.7 197.5,685.6 198.0,684.5 198.5,683.5 199.0,682.6 199.5,681.8 200.0,681.1 200.5,680.6 200.9,680.2 201.4,679.9 201.9,679.8 202.4,679.9 202.9,680.1 203.4,680.5 203.9,681.0 204.4,681.7 204.9,682.4 205.4,683.3 205.9,684.3 206.3,685.4 206.8,686.5 207.3,687.6 207.8,688.8 208.3,689.9 208.8,691.0 209.3,692.0 209.8,692.9 210.3,693.8 210.8,694.5 211.3,695.1 211.8,695.6 212.2,695.9 212.7,696.1 213.2,696.1 213.7,695.9 214.2,695.6 214.7,695.1 215.2,694.5 215.7,693.8 216.2,692.9 216.7,692.0 217.2,690.9 217.7,689.8 218.1,688.7 218.6,687.6 219.1,686.4 219.6,685.3 220.1,684.2 220.6,683.2 221.1,682.3 221.6,681.5 222.1,680.9 222.6,680.3 223.1,679.9 223.6,679.7 224.0,679.6 224.5,679.7 225.0,680.0 225.5,680.4 226.0,681.0 226.5,681.7 227.0,682.5 227.5,683.4 228.0,684.5 228.5,685.6 229.0,686.7 229.4,687.9 229.9,689.1 230.4,690.2 230.9,691.4 231.4,692.4 231.9,693.4 232.4,694.2 232.9,694.9 233.4,695.5 233.9,695.9 234.4,696.2 234.9,696.3 235.3,696.2 235.8,695.9 236.3,695.5 236.8,694.9 237.3,694.2 237.8,693.3 238.3,692.3 238.8,691.3 239.3,690.1 239.8,688.9 240.3,687.7 240.8,686.5 241.2,685.3 241.7,684.2 242.2,683.1 242.7,682.2 243.2,681.3 243.7,680.6 244.2,680.1 244.7,679.7 245.2,679.5 245.7,679.5 246.2,679.6 246.7,679.9 247.1,680.4 247.6,681.0 248.1,681.8 248.6,682.7 249.1,683.8 249.6,684.9 250.1,686.1 250.6,687.3 251.1,688.5 251.6,689.7 252.1,690.9 252.6,692.1 253.0,693.1 253.5,694.0 254.0,694.8 254.5,695.5 255.0,696.0 255.5,696.3 256.0,696.5 256.5,696.4 257.0,696.2 257.5,695.8 258.0,695.3 258.4,694.6 258.9,693.7 259.4,692.7 259.9,691.6 260.4,690.5 260.9,689.3 261.4,688.0 261.9,686.7 262.4,685.5 262.9,684.3 263.4,683.2 263.9,682.2 264.3,681.3 264.8,680.6 265.3,680.0 265.8,679.5 266.3,679.3 266.8,679.2 267.3,679.4 267.8,679.7 268.3,680.1 268.8,680.8 269.3,681.6 269.8,682.5 270.2,683.6 270.7,684.8 271.2,686.0 271.7,687.3 272.2,688.5 272.7,689.8 273.2,691.1 273.7,692.2 274.2,693.3 274.7,694.3 275.2,695.1 275.7,695.7 276.1,696.2 276.6,696.6 277.1,696.7 277.6,696.6 278.1,696.4 278.6,695.9 279.1,695.3 279.6,694.5 280.1,693.6 280.6,692.6 281.1,691.4 281.6,690.2 282.0,688.9 282.5,687.6 283.0,686.3 283.5,685.0 284.0,683.8 284.5,682.7 285.0,681.7 285.5,680.8 286.0,680.1 286.5,679.5 287.0,679.2 287.4,679.0 287.9,679.0 288.4,679.3 288.9,679.7 289.4,680.3 289.9,681.1 290.4,682.0 290.9,683.1 291.4,684.3 291.9,685.6 292.4,686.9 292.9,688.2 293.3,689.6 293.8,690.9 294.3,692.1 294.8,693.3 295.3,694.3 295.8,695.2 296.3,695.9 296.8,696.5 297.3,696.8 297.8,696.9 298.3,696.8 298.8,696.6 299.2,696.1 299.7,695.4 300.2,694.5 300.7,693.5 301.2,692.4 301.7,691.1 302.2,689.8 302.7,688.4 303.2,687.0 303.7,685.6 304.2,684.3 304.7,683.0 305.1,681.9 305.6,680.9 306.1,680.1 306.6,679.5 307.1,679.0 307.6,678.8 308.1,678.8 308.6,679.0 309.1,679.4 309.6,680.0 310.1,680.8 310.6,681.8 311.0,682.9 311.5,684.1 312.0,685.5 312.5,686.8 313.0,688.3 313.5,689.7 314.0,691.0 314.5,692.3 315.0,693.5 315.5,694.6 316.0,695.5 316.4,696.2 316.9,696.7 317.4,697.1 317.9,697.2 318.4,697.1 318.9,696.7 319.4,696.2 319.9,695.5 320.4,694.6 320.9,693.5 321.4,692.3 321.9,691.0 322.3,689.6 322.8,688.1 323.3,686.7 323.8,685.3 324.3,683.9 324.8,682.7 325.3,681.5 325.8,680.6 326.3,679.7 326.8,679.1 327.3,678.7 327.8,678.5 328.2,678.5 328.7,678.8 329.2,679.2 329.7,679.9 330.2,680.8 330.7,681.8 331.2,683.0 331.7,684.3 332.2,685.7 332.7,687.2 333.2,688.6 333.7,690.1 334.1,691.5 334.6,692.8 335.1,694.0 335.6,695.1 336.1,696.0 336.6,696.7 337.1,697.1 337.6,697.4 338.1,697.4 338.6,697.2 339.1,696.8 339.6,696.2 340.0,695.4 340.5,694.3 341.0,693.2 341.5,691.9 342.0,690.4 342.5,689.0 343.0,687.5 343.5,686.0 344.0,684.5 344.5,683.2 345.0,681.9 345.4,680.8 345.9,679.9 346.4,679.1 346.9,678.6 347.4,678.3 347.9,678.2 348.4,678.3 348.9,678.7 349.4,679.4 349.9,680.2 350.4,681.2 350.9,682.4 351.3,683.8 351.8,685.2 352.3,686.7 352.8,688.3 353.3,689.8 353.8,691.3 354.3,692.8 354.8,694.1 355.3,695.2 355.8,696.2 356.3,696.9 356.8,697.5 357.2,697.8 357.7,697.8 358.2,697.6 358.7,697.2 359.2,696.5 359.7,695.6 360.2,694.5 360.7,693.2 361.2,691.8 361.7,690.3 362.2,688.7 362.7,687.1 363.1,685.5 363.6,684.0 364.1,682.5 364.6,681.2 365.1,680.1 365.6,679.1 366.1,678.4 366.6,678.0 367.1,677.7 367.6,677.8 368.1,678.1 368.6,678.7 369.0,679.5 369.5,680.5 370.0,681.7 370.5,683.1 371.0,684.6 371.5,686.2 372.0,687.9 372.5,689.6 373.0,691.2 373.5,692.7 374.0,694.2 374.4,695.4 374.9,696.5 375.4,697.3 375.9,697.9 376.4,698.3 376.9,698.3 377.4,698.1 377.9,697.6 378.4,696.9 378.9,695.9 379.4,694.6 379.9,693.2 380.3,691.7 380.8,690.0 381.3,688.3 381.8,686.6 382.3,684.9 382.8,683.2 383.3,681.7 383.8,680.4 384.3,679.2 384.8,678.3 385.3,677.7 385.8,677.3 386.2,677.2 386.7,677.4 387.2,677.9 387.7,678.6 388.2,679.7 388.7,680.9 389.2,682.3 389.7,684.0 390.2,685.7 390.7,687.4 391.2,689.3 391.7,691.0 392.1,692.7 392.6,694.3 393.1,695.7 393.6,696.9 394.1,697.8 394.6,698.5 395.1,698.8 395.6,698.9 396.1,698.7 396.6,698.1 397.1,697.3 397.5,696.2 398.0,694.9 398.5,693.4 399.0,691.7 399.5,689.9 400.0,688.0 400.5,686.2 401.0,684.4 401.5,682.6 402.0,681.0 402.5,679.6 403.0,678.5 403.4,677.5 403.9,676.9 404.4,676.6 404.9,676.6 405.4,676.9 405.9,677.6 406.4,678.5 406.9,679.7 407.4,681.2 407.9,682.8 408.4,684.6 408.9,686.5 409.3,688.4 409.8,690.3 410.3,692.2 410.8,693.9 411.3,695.5 411.8,696.9 412.3,698.0 412.8,698.8 413.3,699.3 413.8,699.5 414.3,699.4 414.8,699.0 415.2,698.2 415.7,697.1 416.2,695.8 416.7,694.2 417.2,692.5 417.7,690.6 418.2,688.6 418.7,686.6 419.2,684.7 419.7,682.8 420.2,681.0 420.7,679.5 421.1,678.2 421.6,677.1 422.1,676.4 422.6,676.0 423.1,676.0 423.6,676.3 424.1,676.9 424.6,677.9 425.1,679.1 425.6,680.7 426.1,682.4 426.5,684.3 427.0,686.3 427.5,688.4 428.0,690.5 428.5,692.5 429.0,694.4 429.5,696.1 430.0,697.5 430.5,698.7 431.0,699.5 431.5,700.0 432.0,700.2 432.4,699.9 432.9,699.3 433.4,698.3 433.9,697.1 434.4,695.5 434.9,693.7 435.4,691.7 435.9,689.6 436.4,687.4 436.9,685.3 437.4,683.2 437.9,681.2 438.3,679.5 438.8,678.0 439.3,676.8 439.8,675.9 440.3,675.4 440.8,675.3 441.3,675.7 441.8,676.3 442.3,677.4 442.8,678.8 443.3,680.5 443.8,682.4 444.2,684.5 444.7,686.8 445.2,689.0 445.7,691.3 446.2,693.4 446.7,695.4 447.2,697.2 447.7,698.6 448.2,699.7 448.7,700.5 449.2,700.8 449.7,700.7 450.1,700.2 450.6,699.3 451.1,698.0 451.6,696.4 452.1,694.4 452.6,692.3 453.1,690.0 453.6,687.6 454.1,685.2 454.6,682.9 455.1,680.8 455.5,678.8 456.0,677.2 456.5,675.9 457.0,675.1 457.5,674.6 458.0,674.6 458.5,675.1 459.0,675.9 459.5,677.2 460.0,678.9 460.5,680.8 461.0,683.0 461.4,685.4 461.9,687.9 462.4,690.4 462.9,692.8 463.4,695.1 463.9,697.1 464.4,698.8 464.9,700.2 465.4,701.1 465.9,701.6 466.4,701.6 466.9,701.2 467.3,700.3 467.8,699.0 468.3,697.3 468.8,695.2 469.3,692.9 469.8,690.4 470.3,687.8 470.8,685.2 471.3,682.7 471.8,680.4 472.3,678.3 472.8,676.5 473.2,675.1 473.7,674.2 474.2,673.7 474.7,673.7 475.2,674.3 475.7,675.3 476.2,676.7 476.7,678.6 477.2,680.8 477.7,683.2 478.2,685.9 478.7,688.6 479.1,691.3 479.6,693.9 480.1,696.3 480.6,698.4 481.1,700.1 481.6,701.4 482.1,702.3 482.6,702.6 483.1,702.4 483.6,701.7 484.1,700.5 484.5,698.9 485.0,696.8 485.5,694.4 486.0,691.8 486.5,689.0 487.0,686.2 487.5,683.4 488.0,680.8 488.5,678.4 489.0,676.3 489.5,674.7 490.0,673.5 490.4,672.9 490.9,672.8 491.4,673.2 491.9,674.2 492.4,675.7 492.9,677.7 493.4,680.1 493.9,682.8 494.4,685.7 494.9,688.6 495.4,691.6 495.9,694.5 496.3,697.1 496.8,699.4 497.3,701.2 497.8,702.5 498.3,703.3 498.8,703.5 499.3,703.0 499.8,702.0 500.3,700.4 500.8,698.3 501.3,695.8 501.8,692.9 502.2,689.9 502.7,686.7 503.2,683.6 503.7,680.6 504.2,678.0 504.7,675.7 505.2,673.9 505.7,672.6 506.2,672.0 506.7,672.0 507.2,672.7 507.7,674.0 508.1,675.8 508.6,678.1 509.1,680.9 509.6,683.9 510.1,687.1 510.6,690.3 511.1,693.5 511.6,696.4 512.1,699.0 512.6,701.1 513.1,702.7 513.5,703.8 514.0,704.2 514.5,703.9 515.0,703.0 515.5,701.5 516.0,699.4 516.5,696.9 517.0,694.0 517.5,690.8 518.0,687.6 518.5,684.3 519.0,681.1 519.4,678.2 519.9,675.7 520.4,673.7 520.9,672.3 521.4,671.5 521.9,671.4 522.4,672.0 522.9,673.2 523.4,675.1 523.9,677.5 524.4,680.4 524.9,683.6 525.3,687.0 525.8,690.5 526.3,693.9 526.8,697.0 527.3,699.7 527.8,701.9 528.3,703.5 528.8,704.4 529.3,704.6 529.8,703.9 530.3,702.6 530.8,700.6 531.2,697.9 531.7,694.8 532.2,691.4 532.7,687.8 533.2,684.2 533.7,680.8 534.2,677.7 534.7,675.1 535.2,673.0 535.7,671.7 536.2,671.1 536.6,671.3 537.1,672.3 537.6,674.0 538.1,676.4 538.6,679.3 539.1,682.6 539.6,686.1 540.1,689.7 540.6,693.2 541.1,696.5 541.6,699.3 542.1,701.7 542.5,703.4 543.0,704.4 543.5,704.7 544.0,704.2 544.5,702.9 545.0,701.0 545.5,698.5 546.0,695.5 546.5,692.2 547.0,688.7 547.5,685.1 548.0,681.7 548.4,678.5 548.9,675.8 549.4,673.6 549.9,672.1 550.4,671.3 550.9,671.3 551.4,672.0 551.9,673.5 552.4,675.7 552.9,678.4 553.4,681.7 553.9,685.2 554.3,688.8 554.8,692.4 555.3,695.8 555.8,698.8 556.3,701.3 556.8,703.2 557.3,704.2 557.8,704.5 558.3,703.9 558.8,702.6 559.3,700.4 559.8,697.7 560.2,694.5 560.7,690.9 561.2,687.1 561.7,683.4 562.2,679.9 562.7,676.9 563.2,674.3 563.7,672.5 564.2,671.5 564.7,671.4 565.2,672.1 565.6,673.6 566.1,675.9 566.6,678.8 567.1,682.3 567.6,686.0 568.1,689.8 568.6,693.6 569.1,697.0 569.6,699.9 570.1,702.3 570.6,703.8 571.1,704.5 571.5,704.2 572.0,703.1 572.5,701.2 573.0,698.5 573.5,695.2 574.0,691.5 574.5,687.6 575.0,683.7 575.5,680.0 576.0,676.8 576.5,674.2 577.0,672.4 577.4,671.4 577.9,671.4 578.4,672.4 578.9,674.2 579.4,676.8 579.9,680.1 580.4,683.9 580.9,687.9 581.4,691.9 581.9,695.7 582.4,699.0 582.9,701.7 583.3,703.6 583.8,704.4 584.3,704.3 584.8,703.2 585.3,701.1 585.8,698.1 586.3,694.6 586.8,690.6 587.3,686.4 587.8,682.3 588.3,678.6 588.8,675.4 589.2,673.1 589.7,671.6 590.2,671.3 590.7,672.0 591.2,673.7 591.7,676.4 592.2,679.8 592.7,683.7 593.2,687.9 593.7,692.1 594.2,696.0 594.6,699.4 595.1,702.1 595.6,703.8 596.1,704.5 596.6,704.2 597.1,702.7 597.6,700.3 598.1,697.1 598.6,693.3 599.1,689.1 599.6,684.8 600.1,680.7 600.5,677.1 601.0,674.2 601.5,672.2 602.0,671.3 602.5,671.5 603.0,672.8 603.5,675.2 604.0,678.5 604.5,682.4 605.0,686.8 605.5,691.2 606.0,695.4 606.4,699.1 606.9,702.0 607.4,703.9 607.9,704.6 608.4,704.1 608.9,702.4 609.4,699.7 609.9,696.1 610.4,691.8 610.9,687.3 611.4,682.8 611.9,678.6 612.3,675.2 612.8,672.7 613.3,671.3 613.8,671.3 614.3,672.6 614.8,675.2 615.3,678.8 615.8,683.1 616.3,687.9 616.8,692.7 617.3,697.2 617.8,700.9 618.2,703.4 618.7,704.6 619.2,704.3 619.7,702.4 620.2,699.2 620.7,694.9 621.2,690.0 621.7,684.8 622.2,679.9 622.7,675.7 623.2,672.8 623.6,671.3 624.1,671.4 624.6,673.0 625.1,676.1 625.6,680.4 626.1,685.3 626.6,690.5 627.1,695.4 627.6,699.6 628.1,702.7 628.6,704.4 629.1,704.6 629.5,703.3 630.0,700.5 630.5,696.5 631.0,691.7 631.5,686.6 632.0,681.5 632.5,677.1 633.0,673.6 633.5,671.5 634.0,671.0 634.5,672.2 635.0,674.9 635.4,678.9 635.9,683.9 636.4,689.3 636.9,694.6 637.4,699.2 637.9,702.7 638.4,704.7 638.9,704.9 639.4,703.3 639.9,699.9 640.4,695.3 640.9,689.7 641.3,683.9 641.8,678.5 642.3,674.1 642.8,671.2 643.3,670.2 643.8,671.3 644.3,674.3 644.8,679.0 645.3,684.8 645.8,691.0 646.1,695.6 646.3,697.0 646.4,698.4 646.5,699.6 646.6,700.8 646.8,701.9 646.9,702.9 647.0,703.8 647.1,704.5 647.2,705.2 647.4,705.7 647.5,706.0 647.6,706.2 647.7,706.3 647.9,706.3 648.0,706.0 648.1,705.7 648.2,705.2 648.3,704.5 648.5,703.8 648.6,702.9 648.7,701.8 648.8,700.7 649.0,699.4 649.1,698.1 649.2,696.7 649.3,695.1 649.5,693.6 649.6,691.9 649.7,690.3 649.8,688.6 649.9,686.9 650.1,685.2 650.2,683.5 650.3,681.8 650.4,680.2 650.6,678.7 650.7,677.2 650.8,675.8 650.9,674.5 651.1,673.3 651.2,672.2 651.3,671.3 651.4,670.4 651.5,669.8 651.7,669.3 651.8,668.9 651.9,668.7 652.0,668.7 652.2,668.9 652.3,669.2 652.4,669.7 652.5,670.3 652.6,671.1 652.8,672.1 652.9,673.2 653.0,674.4 653.1,675.8 653.3,677.3 653.4,678.9 653.5,680.6 653.6,682.3 653.8,684.2 653.9,686.0 654.0,687.9 654.1,689.8 654.2,691.7 654.4,693.5 654.5,695.3 654.6,697.1 654.7,698.8 654.9,700.3 655.0,701.8 655.1,703.1 655.2,704.3 655.4,705.3 655.5,706.2 655.6,706.9 655.7,707.4 655.8,707.7 656.0,707.8 656.1,707.7 656.2,707.4 656.3,707.0 656.5,706.3 656.6,705.4 656.7,704.3 656.8,703.1 656.9,701.7 657.1,700.2 657.2,698.5 657.3,696.7 657.4,694.8 657.6,692.8 657.7,690.7 657.8,688.7 657.9,686.6 658.1,684.5 658.2,682.4 658.3,680.4 658.4,678.4 658.5,676.6 658.7,674.8 658.8,673.2 658.9,671.8 659.0,670.5 659.2,669.4 659.3,668.5 659.4,667.8 659.5,667.4 659.7,667.1 659.8,667.1 659.9,667.4 660.0,667.8 660.1,668.5 660.3,669.5 660.4,670.6 660.5,671.9 660.6,673.5 660.8,675.2 660.9,677.0 661.0,679.0 661.1,681.1 661.3,683.3 661.4,685.6 661.5,687.9 661.6,690.2 661.7,692.5 661.9,694.7 662.0,696.9 662.1,699.0 662.2,701.0 662.4,702.8 662.5,704.4 662.6,705.9 662.7,707.1 662.8,708.2 663.0,709.0 663.1,709.6 663.2,709.9 663.3,709.9 663.5,709.7 663.6,709.3 663.7,708.5 663.8,707.6 664.0,706.4 664.1,704.9 664.2,703.2 664.3,701.4 664.4,699.3 664.6,697.1 664.7,694.8 664.8,692.3 664.9,689.8 665.1,687.3 665.2,684.7 665.3,682.1 665.4,679.6 665.6,677.2 665.7,674.9 665.8,672.7 665.9,670.7 666.0,668.9 666.2,667.4 666.3,666.1 666.4,665.2 666.5,664.5 666.7,664.2 666.8,664.2 666.9,664.5 667.0,665.2 667.1,666.2 667.3,667.6 667.4,669.3 667.5,671.2 667.6,673.5 667.8,676.0 667.9,678.8 668.0,681.7 668.1,684.8 668.3,687.9 668.4,691.1 668.5,694.2 668.6,697.3 668.7,700.3 668.9,703.1 669.0,705.6 669.1,707.9 669.2,709.8 669.4,711.3 669.5,712.3 669.6,713.0 669.7,713.1 669.9,712.8 670.0,711.9 670.1,710.6 670.2,708.8 670.3,706.5 670.5,703.9 670.6,700.8 670.7,697.5 670.8,694.0 671.0,690.2 671.1,686.4 671.2,682.6 671.3,678.9 671.4,675.4 671.6,672.1 671.7,669.1 671.8,666.5 671.9,664.4 672.1,662.9 672.2,661.9 672.3,661.5 672.4,661.7 672.6,662.6 672.7,664.1 672.8,666.2 672.9,668.8 673.0,672.0 673.2,675.5 673.3,679.4 673.4,683.6 673.5,687.9 673.7,692.2 673.8,696.5 673.9,700.6 674.0,704.5 674.2,708.0 674.3,711.0 674.4,713.4 674.5,715.2 674.6,716.4 674.8,716.8 674.9,716.4 675.0,715.2 675.1,713.3 675.3,710.6 675.4,707.2 675.5,703.1 675.6,698.6 675.8,693.6 675.9,688.3 676.0,682.9 676.1,677.5 676.2,672.2 676.4,667.4 676.5,663.1 676.6,659.4 676.7,656.7 676.9,654.9 677.0,654.2 677.1,654.7 677.2,656.3 677.3,659.2 677.5,663.2 677.6,668.2 677.7,674.1 677.8,680.6 678.0,687.6 678.1,694.7 678.2,701.7 678.3,708.2 678.5,714.0 678.6,718.8 678.7,722.3 678.8,724.4 678.9,724.8 679.1,723.6 679.2,720.5 679.3,715.8 679.4,709.6 679.6,702.0 679.7,693.4 679.8,684.3 679.9,675.1 680.1,666.4 680.2,658.6 680.3,652.4 680.4,648.1 680.5,646.2 680.7,647.0 680.8,650.5 680.9,656.7 681.0,665.2 681.2,675.4 681.3,686.7 681.4,698.3 681.5,709.3 681.6,718.4 681.8,724.8 681.9,727.4 682.0,725.8 682.1,719.7 682.3,709.8 682.4,696.9 682.5,682.6 682.6,668.6 682.8,657.0 682.9,649.4 683.0,647.0 683.1,650.5 683.2,659.6 683.4,672.6 683.5,687.1 683.6,700.7 683.7,711.2 683.9,716.7 684.0,716.7 684.1,711.3 684.2,702.0 684.4,690.5 684.5,679.4 684.6,671.0 684.7,666.8 684.8,667.3 685.0,672.1 685.1,679.5 685.2,687.6 685.3,694.8 685.5,699.6 685.6,701.3 685.7,699.9 685.8,696.0 685.9,690.8 686.1,685.5 686.2,681.2 686.3,678.9 686.4,678.8 686.6,680.8 686.7,684.1 686.8,687.8 686.9,691.2 687.1,693.4 687.2,694.1 687.3,693.4 687.4,691.5 687.5,689.1 687.7,686.7 687.8,684.9 687.9,683.9 688.0,683.9 688.2,684.8 688.3,686.2 688.4,687.9 688.5,689.4 688.7,690.5 688.8,690.9 688.9,690.6 689.0,689.7 689.1,688.5 689.3,687.3 689.4,686.3 689.5,685.7 689.6,685.7 689.8,686.2 689.9,687.0 690.0,687.9 690.1,688.8 690.2,689.4 690.4,689.6 690.5,689.4 690.6,688.9 690.7,688.3 690.9,687.6 691.0,687.0 691.1,686.6 691.2,686.6 691.4,686.9 691.5,687.3 691.6,687.9 691.7,688.4 691.8,688.8 692.0,689.0 692.1,688.9 692.2,688.6 692.3,688.1 692.5,687.7 692.6,687.3 692.7,687.0 692.8,687.0 693.0,687.2 693.1,687.5 693.2,687.9 693.3,688.3 693.4,688.6 693.6,688.7 693.7,688.6 693.8,688.4 693.9,688.1 694.1,687.7 694.2,687.4 694.3,687.2 694.4,687.2 694.6,687.3 694.7,687.6 694.8,687.9 694.9,688.2 695.0,688.4 695.2,688.5 695.3,688.5 695.4,688.3 695.5,688.0 695.7,687.8 695.8,687.5 695.9,687.4 696.0,687.4 696.1,687.5" fill="none" stroke="#5f8fa3" stroke-width="2.4" stroke-linejoin="round" stroke-linecap="butt"/>
<line x1="132.9" y1="618.6" x2="132.9" y2="757.8" stroke="#4c72b0" stroke-width="4"/>
<line x1="119.6" y1="647.2" x2="163.8" y2="647.2" stroke="#bf4f20" stroke-width="2.4"/>
<line x1="248.2" y1="647.2" x2="291.8" y2="647.2" stroke="#5f8fa3" stroke-width="2.4"/>
<text y="654" font-family='"DejaVu Sans", "Liberation Sans", sans-serif' font-size="20.8"><tspan x="179" font-style="italic">h</tspan><tspan x="194" dy="3.5" font-size="14.6">+</tspan></text>
<text y="654" font-family='"DejaVu Sans", "Liberation Sans", sans-serif' font-size="20.8"><tspan x="307.6" font-style="italic">h</tspan><tspan x="320.6" dy="3.5" font-size="14.6">×</tspan></text>
<g font-family='"Liberation Sans", Arial, sans-serif' font-size="20.3">
<text x="191.5" y="787.8" text-anchor="middle">−4000</text>
<text x="314.4" y="787.8" text-anchor="middle">−3000</text>
<text x="437.2" y="787.8" text-anchor="middle">−2000</text>
<text x="560.1" y="787.8" text-anchor="middle">−1000</text>
<text x="683.0" y="787.8" text-anchor="middle">0</text>
<text x="86.4" y="636.6" text-anchor="end">0.2</text>
<text x="86.4" y="695.9" text-anchor="end">0.0</text>
<text x="86.4" y="755.1" text-anchor="end">−0.2</text>
</g>
<text x="412.5" y="816.5" font-family='"DejaVu Sans", "Liberation Sans", sans-serif' font-size="20.8" text-anchor="middle"><tspan font-style="italic">t</tspan><tspan dx="3.5">(</tspan><tspan font-style="italic">M</tspan><tspan>)</tspan></text>
<text transform="translate(33.3,690) rotate(-90)" font-family='"DejaVu Sans", "Liberation Sans", sans-serif' font-size="20.8" text-anchor="middle" font-style="italic"><tspan>h</tspan><tspan dx="3.5">r</tspan><tspan font-style="normal">/</tspan><tspan>M</tspan></text>
</g>
</svg></body></html>
